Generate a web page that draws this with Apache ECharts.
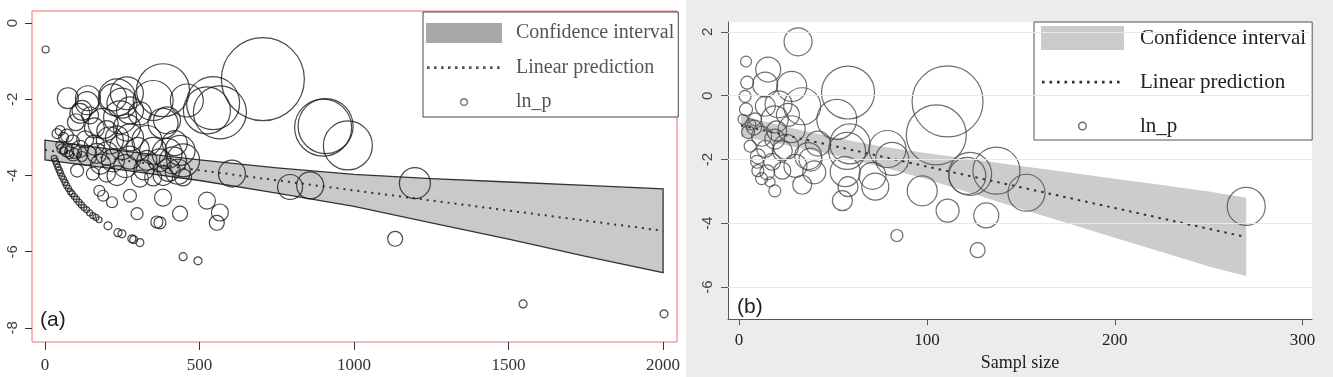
<!DOCTYPE html>
<html>
<head>
<meta charset="utf-8">
<title>ln_p funnel plots</title>
<script src="https://cdn.jsdelivr.net/npm/echarts@6/dist/echarts.min.js"></script>
<style>
html, body { margin: 0; padding: 0; background: #fff; }
#chart { width: 1333px; height: 377px; }
</style>
</head>
<body>
<div id="chart"></div>
<script>
// panel (a): [sample size, ln_p, weight]
const studiesA = [
  [2, -0.69, 12], [705, -1.47, 1722], [382, -1.76, 702], [544, -2.1, 702], [566, -2.34, 702],
  [524, -2.29, 552], [350, -2.03, 400], [382, -2.63, 225], [900, -2.74, 812], [908, -2.7, 756],
  [980, -3.21, 600], [1197, -4.2, 240], [793, -4.3, 156], [858, -4.26, 182], [1133, -5.66, 56],
  [605, -3.95, 182], [524, -4.66, 72], [556, -5.24, 56], [566, -4.97, 72], [437, -5.0, 56],
  [382, -4.58, 72], [372, -5.24, 36], [362, -5.22, 36], [298, -5.0, 36], [275, -4.53, 42],
  [217, -4.7, 30], [188, -4.53, 30], [176, -4.4, 30], [204, -5.32, 16], [236, -5.5, 16],
  [249, -5.53, 16], [281, -5.66, 16], [287, -5.68, 16], [307, -5.76, 16], [447, -6.13, 16],
  [495, -6.24, 16], [1547, -7.37, 16], [2003, -7.63, 16],
  [74, -1.97, 110], [136, -2.1, 132], [113, -2.37, 100], [146, -2.42, 72], [220, -1.95, 182],
  [249, -2.1, 225], [265, -1.84, 272], [275, -2.29, 182], [395, -2.55, 182], [459, -2.03, 272],
  [233, -1.95, 342], [120, -2.29, 100], [243, -2.47, 272], [139, -1.97, 156],
  [49, -2.82, 25], [71, -2.95, 42], [200, -2.82, 100], [233, -3.0, 132], [275, -3.0, 182],
  [200, -3.42, 132], [71, -3.34, 42], [91, -3.39, 72], [136, -3.47, 100], [168, -3.42, 100],
  [220, -3.6, 132], [275, -3.53, 132], [330, -3.6, 100], [395, -3.42, 225], [437, -3.34, 225],
  [414, -3.6, 182], [370, -3.6, 132], [104, -3.87, 42], [155, -3.95, 42], [200, -3.95, 72],
  [233, -4.0, 100], [307, -4.08, 72], [350, -4.05, 72], [382, -4.0, 100], [447, -4.05, 72],
  [188, -2.63, 225], [265, -2.74, 182], [307, -2.37, 132], [210, -3.08, 182], [330, -3.08, 225],
  [39, -2.9, 25], [113, -3.3, 72], [160, -3.2, 100], [447, -3.6, 272], [420, -3.15, 156],
  [55, -3.3, 25], [90, -3.1, 42], [60, -3.35, 16], [80, -3.45, 16], [95, -3.42, 25],
  [120, -3.5, 25], [48, -3.2, 16],
  [100, -2.6, 72], [160, -2.75, 100], [250, -3.25, 156], [300, -3.3, 132], [350, -3.35, 182],
  [180, -3.7, 100], [260, -3.75, 132], [320, -3.85, 100], [400, -3.85, 132], [430, -3.9, 156],
  [60, -3.0, 25], [130, -3.05, 72],
  [30, -3.55, 9], [34, -3.62, 9], [38, -3.7, 9], [42, -3.78, 9], [46, -3.86, 9], [50, -3.93, 9],
  [55, -4.02, 9], [60, -4.1, 9], [65, -4.18, 9], [70, -4.26, 9], [76, -4.34, 9], [82, -4.42, 9],
  [88, -4.48, 9], [95, -4.55, 9], [102, -4.62, 9], [110, -4.7, 9], [118, -4.77, 9], [126, -4.84, 9],
  [135, -4.9, 9], [145, -4.98, 9], [155, -5.05, 9], [165, -5.1, 9], [175, -5.16, 9]
]
const bandAX = [0, 250, 500, 750, 1000, 1250, 1500, 1750, 2000]
const bandAHi = [-3.07, -3.35, -3.59, -3.8, -3.97, -4.08, -4.17, -4.26, -4.35]
const bandALo = [-3.59, -3.85, -4.13, -4.46, -4.81, -5.24, -5.67, -6.12, -6.55]
const predAX = [0, 500, 1000, 1500, 2000]
const predAY = [-3.33, -3.86, -4.39, -4.92, -5.45]
const ticksAX = [0, 500, 1000, 1500, 2000]
const ticksAY = [-8, -6, -4, -2, 0]

// panel (b)
const studiesB = [
  [31.4, 1.69, 196], [3.7, 1.07, 30], [15.5, 0.82, 156], [4.3, 0.41, 42], [13.9, 0.35, 156],
  [28, 0.29, 225], [3.2, -0.02, 36], [58, 0.1, 702], [14, -0.33, 100], [21, -0.27, 182],
  [33.6, -0.33, 342], [3.7, -0.43, 42], [2.1, -0.74, 25], [8.5, -0.74, 42], [19, -0.74, 182],
  [52, -0.74, 400], [28, -1.05, 182], [4.8, -1.14, 42], [12, -1.27, 100], [19, -1.36, 100],
  [59, -1.51, 400], [57.5, -1.73, 342], [79, -1.67, 342], [81.5, -1.98, 272], [5.9, -1.58, 36],
  [13.9, -1.67, 72], [23, -1.73, 100], [36.8, -1.89, 182], [38, -2.0, 132], [9.6, -2.07, 42],
  [17.6, -2.07, 72], [23, -2.35, 72], [10, -2.35, 36], [56.5, -2.38, 225], [71, -2.51, 182],
  [72.5, -2.85, 182], [33.6, -2.79, 90], [16.5, -2.7, 25], [19, -2.98, 36], [58, -2.85, 100],
  [55, -3.29, 100], [84, -4.38, 36], [111, -0.18, 1260], [105, -1.23, 900], [123, -2.45, 462],
  [121.5, -2.51, 342], [137, -2.35, 552], [153, -3.04, 342], [97.5, -2.98, 225], [111, -3.6, 132],
  [131.6, -3.75, 156], [127, -4.84, 56], [270, -3.47, 361],
  [8, -1.0, 56], [25, -1.6, 156], [30, -2.2, 132], [42, -1.5, 156], [12, -2.6, 36], [26, -0.6, 132],
  [6, -0.9, 30], [10, -1.9, 56], [20, -1.1, 100], [15, -2.4, 56], [40, -2.4, 132]
]
const bandBX = [1, 25, 50, 75, 100, 125, 150, 175, 200, 225, 250, 270]
const bandBHi = [-0.62, -0.97, -1.3, -1.58, -1.8, -2.0, -2.2, -2.4, -2.6, -2.8, -3.0, -3.2]
const bandBLo = [-1.28, -1.55, -1.85, -2.22, -2.62, -3.08, -3.55, -4.0, -4.45, -4.9, -5.35, -5.65]
const predBX = [1, 90, 180, 270]
const predBY = [-0.93, -2.09, -3.26, -4.43]
const ticksBX = [0, 100, 200, 300]
const ticksBY = [-6, -4, -2, 0, 2]

const serif = 'Liberation Serif'
const sans = 'Liberation Sans'
const plain = v => String(v)

function bandSeries(xs, hi, lo, axis, fill, stroke) {
  return {
    type: 'custom',
    name: 'Confidence interval',
    xAxisIndex: axis,
    yAxisIndex: axis,
    z: 1,
    silent: true,
    data: xs.map((x, i) => [x, hi[i], lo[i]]),
    encode: { x: 0, y: [1, 2] },
    renderItem: function (params, api) {
      if (params.dataIndex !== 0) return
      const top = xs.map((x, i) => api.coord([x, hi[i]]))
      const bottom = xs.map((x, i) => api.coord([x, lo[i]])).reverse()
      return {
        type: 'polygon',
        shape: { points: top.concat(bottom) },
        style: { fill: fill, stroke: stroke || null, lineWidth: 1.3 }
      }
    }
  }
}

function dotsIcon(w, h, visW, step) {
  let p = 'path://M0 0M' + w + ' ' + h
  for (let x = 1; x < visW; x += step) {
    p += 'M' + x + ' ' + (h / 2 - 1.2) + 'h2.6v2.6h-2.6Z'
  }
  return p
}

function ringIcon(w, h, cx, r) {
  const cy = h / 2
  const ri = r - 1.4
  return 'path://M0 0M' + w + ' ' + h +
    'M' + (cx - r) + ' ' + cy + 'A' + r + ' ' + r + ' 0 1 0 ' + (cx + r) + ' ' + cy +
    'A' + r + ' ' + r + ' 0 1 0 ' + (cx - r) + ' ' + cy + 'Z' +
    'M' + (cx - ri) + ' ' + cy + 'A' + ri + ' ' + ri + ' 0 1 1 ' + (cx + ri) + ' ' + cy +
    'A' + ri + ' ' + ri + ' 0 1 1 ' + (cx - ri) + ' ' + cy + 'Z'
}

const chart = echarts.init(document.getElementById('chart'))

const option = {
  animation: false,
  graphic: [
    { type: 'rect', z: -1, shape: { x: 686, y: 0, width: 647, height: 377 }, style: { fill: '#ececec' } },
    { type: 'text', x: 40, y: 320, style: { text: '(a)', font: '21px ' + sans, fill: '#222', verticalAlign: 'middle' } },
    { type: 'text', x: 737, y: 307, style: { text: '(b)', font: '21px ' + sans, fill: '#222', verticalAlign: 'middle' } }
  ],
  legend: [
    {
      left: 423, top: 12, orient: 'vertical',
      padding: [11, 4, 5, 3],
      itemWidth: 85, itemHeight: 20, itemGap: 14.5,
      borderColor: '#444', borderWidth: 1, backgroundColor: '#fff',
      textStyle: { fontFamily: serif, fontSize: 20, color: '#555' },
      selectedMode: false,
      data: [
        { name: 'Confidence interval', icon: 'path://M0 0H76V20H0ZM85 20', itemStyle: { color: '#a8a8a8', borderWidth: 0 } },
        { name: 'Linear prediction', icon: dotsIcon(85, 20, 76, 7), itemStyle: { color: '#555', borderWidth: 0 } },
        { name: 'ln_p', icon: ringIcon(85, 20, 38, 4), itemStyle: { color: '#555', borderWidth: 0 } }
      ]
    },
    {
      left: 1034, top: 22, orient: 'vertical',
      padding: [4, 6, 2, 7],
      itemWidth: 94, itemHeight: 24, itemGap: 20,
      borderColor: '#555', borderWidth: 1, backgroundColor: '#fff',
      textStyle: { fontFamily: serif, fontSize: 21, color: '#222' },
      selectedMode: false,
      data: [
        { name: 'Confidence interval', icon: 'path://M0 0H83V24H0ZM94 24', itemStyle: { color: '#cbcbcb', borderWidth: 0 } },
        { name: 'Linear prediction', icon: dotsIcon(94, 24, 83, 7.5), itemStyle: { color: '#333', borderWidth: 0 } },
        { name: 'ln_p', icon: ringIcon(94, 24, 41.5, 4.5), itemStyle: { color: '#444', borderWidth: 0 } }
      ]
    }
  ],
  grid: [
    { left: 32, top: 11, width: 645, height: 331, show: true, borderColor: '#ee7070', borderWidth: 1, backgroundColor: 'transparent' },
    { left: 728, top: 22, width: 584, height: 300, show: true, borderWidth: 0, backgroundColor: '#fff' }
  ],
  xAxis: [
    {
      type: 'value', gridIndex: 0, min: -42, max: 2045,
      axisLine: { show: false, onZero: false },
      axisTick: { show: true, length: 8, customValues: ticksAX, lineStyle: { color: '#333' } },
      axisLabel: { customValues: ticksAX, formatter: plain, fontFamily: serif, fontSize: 17, color: '#333', margin: 15 },
      splitLine: { show: false }
    },
    {
      type: 'value', gridIndex: 1, min: -5.9, max: 305,
      name: 'Sampl size', nameLocation: 'middle', nameGap: 29,
      nameTextStyle: { fontFamily: serif, fontSize: 18, color: '#222' },
      axisLine: { show: true, onZero: false, lineStyle: { color: '#555' } },
      axisTick: { show: true, length: 6, customValues: ticksBX, lineStyle: { color: '#555' } },
      axisLabel: { customValues: ticksBX, formatter: plain, fontFamily: serif, fontSize: 17, color: '#222', margin: 13 },
      splitLine: { show: false }
    }
  ],
  yAxis: [
    {
      type: 'value', gridIndex: 0, min: -8.37, max: 0.32,
      axisLine: { show: false, onZero: false },
      axisTick: { show: true, length: 7, customValues: ticksAY, lineStyle: { color: '#333' } },
      axisLabel: { customValues: ticksAY, formatter: plain, rotate: 90, fontFamily: sans, fontSize: 15, color: '#444', margin: 12 },
      splitLine: { show: false }
    },
    {
      type: 'value', gridIndex: 1, min: -7.0, max: 2.31,
      axisLine: { show: true, onZero: false, lineStyle: { color: '#555' } },
      axisTick: { show: true, length: 7, customValues: ticksBY, lineStyle: { color: '#555' } },
      axisLabel: { customValues: ticksBY, formatter: plain, rotate: 90, fontFamily: sans, fontSize: 15, color: '#444', margin: 13 },
      splitLine: { show: false }
    }
  ],
  series: [
    // grid lines of panel b
    {
      type: 'line', xAxisIndex: 1, yAxisIndex: 1, data: [], z: 0, silent: true,
      markLine: {
        silent: true, symbol: 'none', label: { show: false },
        lineStyle: { color: '#e8e8e8', type: 'solid', width: 1.2 },
        data: ticksBY.map(v => ({ yAxis: v }))
      }
    },
    bandSeries(bandAX, bandAHi, bandALo, 0, '#c9c9c9', '#333'),
    {
      type: 'line', name: 'Linear prediction', xAxisIndex: 0, yAxisIndex: 0, z: 2,
      data: predAX.map((x, i) => [x, predAY[i]]),
      symbol: 'none', silent: true,
      lineStyle: { color: '#333', width: 2, type: [2, 5] }
    },
    {
      type: 'scatter', name: 'ln_p', xAxisIndex: 0, yAxisIndex: 0, z: 3,
      data: studiesA,
      symbolSize: v => Math.sqrt(v[2]) * 2,
      itemStyle: { color: 'transparent', borderColor: '#1c1c1c', borderWidth: 1.2 }
    },
    bandSeries(bandBX, bandBHi, bandBLo, 1, '#cccccc', null),
    {
      type: 'line', name: 'Linear prediction', xAxisIndex: 1, yAxisIndex: 1, z: 2,
      data: predBX.map((x, i) => [x, predBY[i]]),
      symbol: 'none', silent: true,
      lineStyle: { color: '#333', width: 2, type: [2.5, 5] }
    },
    {
      type: 'scatter', name: 'ln_p', xAxisIndex: 1, yAxisIndex: 1, z: 3,
      data: studiesB,
      symbolSize: v => Math.sqrt(v[2]) * 2,
      itemStyle: { color: 'transparent', borderColor: '#4a4a4a', borderWidth: 1.2 }
    }
  ]
}

chart.setOption(option)
</script>
</body>
</html>
